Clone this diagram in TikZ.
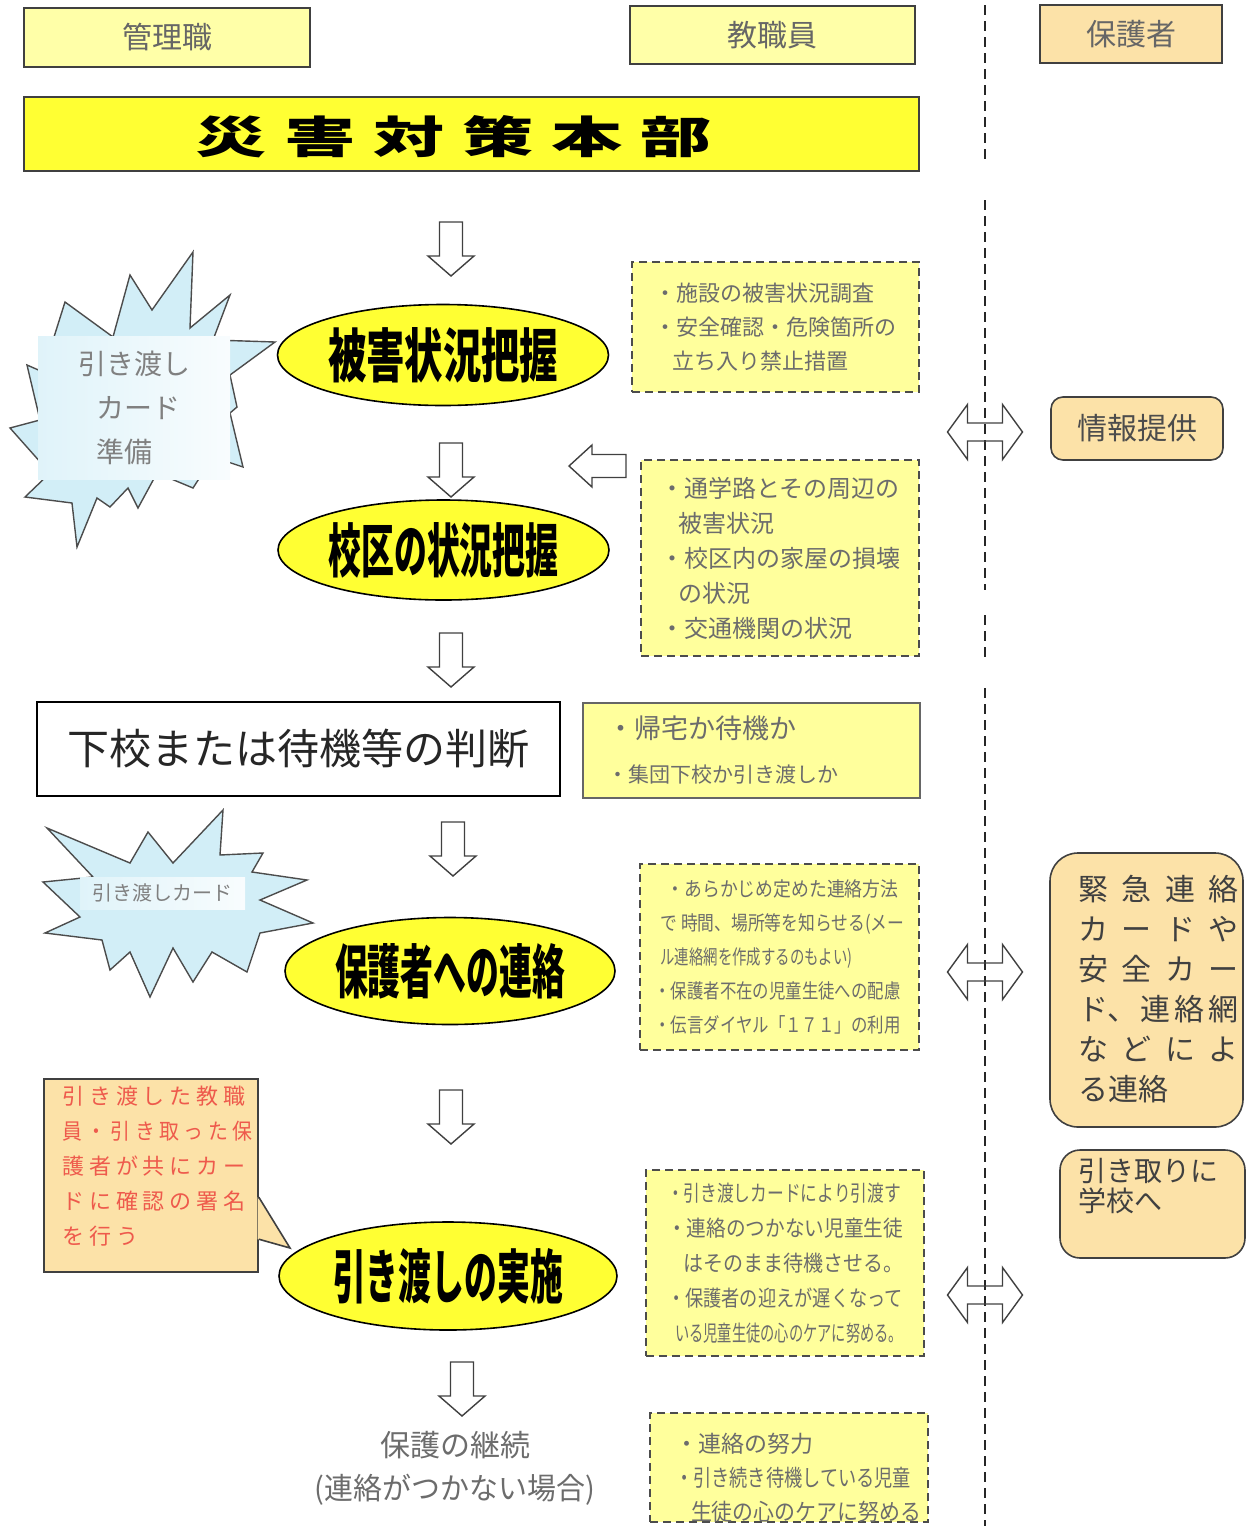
\documentclass[tikz,border=0pt]{standalone}
\usepackage{fontspec}
\usepackage{graphicx}
\setmainfont{Noto Sans CJK JP}
\newfontfamily\jpspaced[LetterSpace=22]{Noto Sans CJK JP}
\usetikzlibrary{shapes.geometric}

\definecolor{paleyellow}{HTML}{FFFFA8}
\definecolor{noteyellow}{HTML}{FFFF9C}
\definecolor{brightyellow}{HTML}{FFFF33}
\definecolor{peach}{HTML}{FCE2A8}
\definecolor{iceblue}{HTML}{D2EEF7}
\definecolor{graytext}{HTML}{6C6C6C}
\definecolor{redtext}{HTML}{EE5A4C}

\newcommand{\fitw}[2]{\resizebox{#1}{\height}{#2}}
\newcommand{\heavy}[1]{\resizebox{115pt}{25pt}{\bfseries #1}}

\begin{document}
\begin{tikzpicture}[
        x=0.5pt, y=-0.5pt,
        headbox/.style={draw=black!75, fill=paleyellow, line width=0.8pt, minimum height=29.5pt, font=\fontsize{15}{18}\selectfont, text=black!60},
        stepoval/.style={ellipse, draw=black, line width=0.8pt, fill=brightyellow, inner sep=0pt},
        note/.style={draw=black!70, dash pattern=on 4pt off 2.5pt, line width=0.7pt, fill=noteyellow, align=left, text=graytext, inner sep=0pt},
        sidebox/.style={draw=black!75, line width=0.8pt, fill=peach, rounded corners=6pt, text=black!70, font=\fontsize{15}{18}\selectfont},
        burst/.style={draw=black!70, line width=0.7pt, fill=iceblue, line join=miter},
        cardtag/.style={left color=iceblue!70, right color=iceblue!15, text=black!50, align=left},
        blockarr/.style={draw=black!75, line width=0.7pt, fill=white},
        sepline/.style={draw=black!85, line width=1pt, dash pattern=on 5pt off 3pt},
        pics/downarr/.style={code={\draw[blockarr] (-11.5,0) -- (11.5,0) -- (11.5,34) -- (23,34) -- (0,54) -- (-23,34) -- (-11.5,34) -- cycle;}},
        pics/leftarr/.style={code={\draw[blockarr] (0,0) -- (23,-21) -- (23,-11.5) -- (57,-11.5) -- (57,11.5) -- (23,11.5) -- (23,21) -- cycle;}},
        pics/botharr/.style={code={\draw[blockarr, fill=none] (-37.5,0) -- (-17.5,-27.5) -- (-17.5,-9) -- (17.5,-9) -- (17.5,-27.5) -- (37.5,0) -- (17.5,27.5) -- (17.5,9) -- (-17.5,9) -- (-17.5,27.5) -- cycle;}}
    ]

    \useasboundingbox (0,0) rectangle (1249,1526);

    % column headers
    \node[headbox, minimum width=143pt] (kanri) at (167,37.5) {管理職};
    \node[headbox, minimum width=142.5pt, minimum height=29pt] (kyoin) at (772.5,35) {教職員};
    \node[headbox, fill=peach, minimum width=91pt, minimum height=29pt] (hogo) at (1131,34) {保護者};

    % headquarters banner
    \node[draw=black!75, fill=brightyellow, line width=0.8pt, minimum width=447.5pt, minimum height=37pt] (honbu) at (471.5,134) {};
    \node (honbutxt) at (453.5,137) {\resizebox{258pt}{19pt}{\bfseries 災\hspace{.25em}害\hspace{.25em}対\hspace{.25em}策\hspace{.25em}本\hspace{.25em}部}};

    % separator between school and parents
    \draw[sepline] (985,5) -- (985,160);
    \draw[sepline] (985,200) -- (985,590);
    \draw[sepline] (985,615) -- (985,662);
    \draw[sepline] (985,688) -- (985,1526);

    % starburst: card preparation
    \draw[burst] (193,252) -- (190,328) -- (230,295) -- (213,340) -- (275,342) -- (230,375) -- (237,407) -- (230,413)
        -- (243,467) -- (213,457) -- (193,488) -- (157,473) -- (138,508) -- (128,488) -- (110,507) -- (97,498)
        -- (77,547) -- (72,503) -- (25,497) -- (50,473) -- (10,428) -- (40,420) -- (27,365) -- (43,372)
        -- (65,302) -- (113,337) -- (130,275) -- (152,310) -- cycle;
    \node[cardtag, minimum width=96pt, minimum height=71.5pt, font=\fontsize{14}{22}\selectfont] (prep) at (134,408) {引き渡し\\\hspace{9pt}カード\\\hspace{9pt}準備};

    % main steps
    \node[stepoval, minimum width=165.5pt, minimum height=50.5pt] (higai) at (443,355) {\heavy{被害状況把握}};
    \node[stepoval, minimum width=165.5pt, minimum height=50pt] (kouku) at (443.5,550) {\heavy{校区の状況把握}};

    % notes for the first two steps
    \node[note, minimum width=143.5pt, minimum height=65pt, font=\fontsize{11}{17}\selectfont] (check1) at (775.5,327)
        {・施設の被害状況調査\\・安全確認・危険箇所の\\\hspace{9pt}立ち入り禁止措置};
    \node[note, minimum width=139pt, minimum height=98pt, font=\fontsize{12}{17.5}\selectfont] (check2) at (780,558)
        {・通学路とその周辺の\\\hspace{9pt}被害状況\\・校区内の家屋の損壊\\\hspace{9pt}の状況\\・交通機関の状況};

    % decision
    \node[draw=black, line width=1.3pt, fill=white, minimum width=261.5pt, minimum height=47pt, font=\fontsize{21}{24}\selectfont, text=black!85] (handan) at (298.5,749) {下校または待機等の判断};
    \node[draw=black!60, line width=0.8pt, fill=noteyellow, minimum width=168.5pt, minimum height=47.5pt, text width=144.5pt, inner xsep=12pt, align=left, text=graytext, font=\fontsize{10.5}{22}\selectfont] (kitaku) at (751.5,750.5)
        {{\fontsize{13.5}{16}\selectfont ・帰宅か待機か}\\・集団下校か引き渡しか};

    % starburst: card
    \draw[burst] (223,810) -- (220,855) -- (263,853) -- (252,872) -- (307,880) -- (260,900) -- (313,923) -- (260,933)
        -- (247,972) -- (212,952) -- (193,982) -- (173,948) -- (150,997) -- (130,952) -- (110,970) -- (102,940)
        -- (45,933) -- (80,917) -- (43,882) -- (93,877) -- (47,828) -- (130,863) -- (148,832) -- (173,863) -- cycle;
    \node[cardtag, minimum width=82.5pt, minimum height=16pt, font=\fontsize{10}{12}\selectfont] (card) at (162.5,893) {引き渡しカード};

    \node[stepoval, minimum width=165pt, minimum height=53.5pt] (renraku) at (450,971) {\heavy{保護者への連絡}};
    \node[note, minimum width=139.5pt, minimum height=93pt, font=\fontsize{10}{17}\selectfont] (check3) at (779.5,957)
        {\hspace{6pt}\fitw{116pt}{・あらかじめ定めた連絡方法}\\\hspace{3pt}\fitw{122pt}{で 時間、場所等を知らせる(メー}\\\hspace{3pt}\fitw{96pt}{ル連絡網を作成するのもよい)}\\\fitw{123pt}{・保護者不在の児童生徒への配慮}\\\fitw{123pt}{・伝言ダイヤル「１７１」の利用}};

    % hand-over
    \node[draw=black!75, line width=0.8pt, fill=peach, minimum width=107pt, minimum height=96.5pt] (sign) at (151,1175.5) {};
    \node[anchor=north west, inner sep=0pt, align=left, text=redtext, font={\jpspaced\fontsize{11}{17.4}\selectfont}] (signtxt) at (62,1086)
        {引き渡した教職\\\fitw{95pt}{員・引き取った保}\\護者が共にカー\\ドに確認の署名\\を行う};
    \node[stepoval, minimum width=169pt, minimum height=54pt] (hikiwatashi) at (448,1276) {\heavy{引き渡しの実施}};
    \coordinate (tip) at (290,1248);
    \fill[peach] ([xshift=-0.6pt, yshift=-59.5pt]sign.north east) -- (tip) -- ([xshift=-0.6pt, yshift=-80.5pt]sign.north east) -- cycle;
    \draw[black!75, line width=0.8pt] ([yshift=-59.5pt]sign.north east) -- (tip) -- ([yshift=-80.5pt]sign.north east);

    \node[note, minimum width=139pt, minimum height=93pt, font=\fontsize{11}{17.5}\selectfont] (check4) at (785,1263)
        {\fitw{117pt}{・引き渡しカードにより引渡す}\\\fitw{118pt}{・連絡のつかない児童生徒}\\\hspace{8pt}\fitw{110pt}{はそのまま待機させる。}\\\fitw{118pt}{・保護者の迎えが遅くなって}\\\hspace{4pt}\fitw{114pt}{いる児童生徒の心のケアに努める。}};

    % continued care
    \node[align=center, text=graytext, font=\fontsize{15}{21.5}\selectfont] (keizoku) at (455,1468) {保護の継続\\\fitw{140pt}{(連絡がつかない場合)}};
    \node[note, minimum width=139pt, minimum height=54.5pt] (check5) at (789,1467.5) {};
    \node[anchor=west, align=left, text=graytext, font=\fontsize{11.5}{17}\selectfont] (check5txt) at (668,1478)
        {・連絡の努力\\\fitw{118pt}{・引き続き待機している児童}\\\hspace{8pt}\fitw{115pt}{生徒の心のケアに努める}};

    % parents side
    \node[sidebox, minimum width=86pt, minimum height=31.5pt] (joho) at (1137,428.5) {情報提供};
    \node[sidebox, rounded corners=14pt, minimum width=96.5pt, minimum height=137pt] (kinkyu) at (1146.5,990) {};
    \node[anchor=north west, inner sep=0pt, align=left, text=black!75, font=\fontsize{15}{20}\selectfont] (kinkyutxt) at (1078,875)
        {\makebox[80pt][s]{緊\hfill 急\hfill 連\hfill 絡}\\\makebox[80pt][s]{カ\hfill ー\hfill ド\hfill や}\\\makebox[80pt][s]{安\hfill 全\hfill カ\hfill ー}\\\makebox[80pt][s]{ド、\hfill 連\hfill 絡\hfill 網}\\\makebox[80pt][s]{な\hfill ど\hfill に\hfill よ}\\る連絡};
    \node[sidebox, rounded corners=10pt, minimum width=92.5pt, minimum height=54pt] (hikitori) at (1152.5,1204) {};
    \node[anchor=north west, inner sep=0pt, align=left, text=black!75, font=\fontsize{14}{15}\selectfont] (hikitoritxt) at (1078,1158) {引き取りに\\学校へ};

    % flow arrows
    \pic (a1) at (451,222) {downarr};
    \pic (a2) at (451,443) {downarr};
    \pic (a3) at (451,633) {downarr};
    \pic (a4) at (453,822) {downarr};
    \pic (a5) at (451,1090) {downarr};
    \pic (a6) at (462,1362) {downarr};
    \pic (back) at (569,466) {leftarr};
    \pic (x1) at (985,432) {botharr};
    \pic (x2) at (985,972) {botharr};
    \pic (x3) at (985,1295) {botharr};

\end{tikzpicture}
\end{document}
